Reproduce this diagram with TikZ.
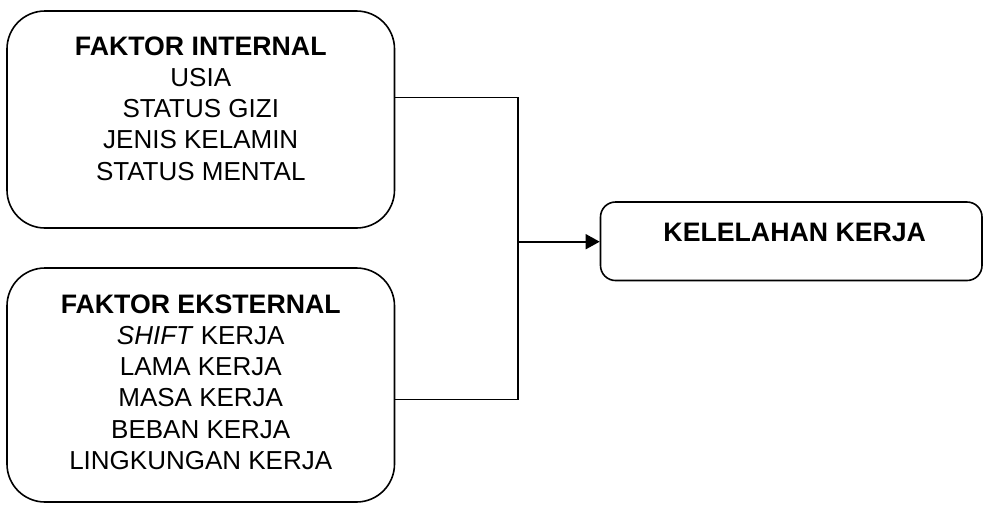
\documentclass[tikz,border=0pt]{standalone}
\usepackage{fontspec}
\setmainfont{Liberation Sans}
\usetikzlibrary{arrows.meta}
\newcommand\headtxt[1]{{\fontsize{26.7}{31.3}\selectfont\bfseries #1}}
\begin{document}
\begin{tikzpicture}[x=1pt,y=-1pt,
  bigbox/.style={draw, line width=1.6pt, rounded corners=38pt, inner sep=0pt},
  smallbox/.style={draw, line width=1.6pt, rounded corners=15pt, inner sep=0pt},
  conn/.style={line width=1.6pt},
  every node/.append style={font=\fontsize{26}{31.3}\selectfont}]
\useasboundingbox (0,0) rectangle (984,504);
\node[bigbox] (internal) at (200.75,119.5) {\begin{minipage}[c][217pt][t]{387.5pt}\centering
\rule{0pt}{44pt}\headtxt{FAKTOR INTERNAL}\\
USIA\\
STATUS GIZI\\
JENIS KELAMIN\\
STATUS MENTAL\end{minipage}};
\node[bigbox] (eksternal) at (200.75,385) {\begin{minipage}[c][234pt][t]{387.5pt}\centering
\rule{0pt}{45pt}\headtxt{FAKTOR EKSTERNAL}\\
\textit{SHIFT} KERJA\\
LAMA KERJA\\
MASA KERJA\\
BEBAN KERJA\\
LINGKUNGAN KERJA\end{minipage}};
\node[smallbox] (kelelahan) at (791.25,241.25) {\begin{minipage}[c][78.5pt][t]{381.5pt}\centering
\rule{0pt}{39.7pt}\hspace*{7pt}\headtxt{KELELAHAN KERJA}\end{minipage}};
\coordinate (jt) at (518,97.3);
\coordinate (jb) at (518,399.5);
\coordinate (jm) at (518,241.7);
\draw[conn] (internal.east |- jt) -- (jt) -- (jb) -- (eksternal.east |- jb);
\draw[conn,-{Triangle[length=14pt,width=15pt]}] (jm) -- (kelelahan.west |- jm);
\end{tikzpicture}
\end{document}
